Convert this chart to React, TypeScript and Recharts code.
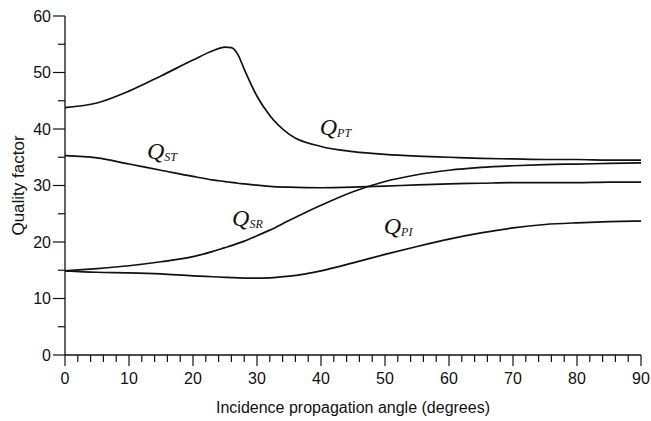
import { LineChart, Line, XAxis, YAxis, ReferenceDot, Label } from 'recharts';

// incidence angle (degrees)
const angles = [0, 5, 10, 15, 20, 23, 25, 26, 27, 28, 30, 32, 35, 40, 45, 50, 55, 60, 65, 70, 75, 80, 85, 90];

const qPT = [43.8, 44.6, 46.7, 49.4, 52.2, 53.8, 54.5, 54.4, 53.2, 50.6, 45.8, 42.4, 39.1, 36.9, 36.0, 35.5, 35.2, 35.0, 34.8, 34.7, 34.6, 34.6, 34.5, 34.5];
const qST = [35.3, 34.9, 33.8, 32.7, 31.6, 31.0, 30.7, 30.55, 30.4, 30.3, 30.05, 29.85, 29.7, 29.6, 29.7, 29.9, 30.1, 30.3, 30.4, 30.5, 30.5, 30.5, 30.6, 30.6];
const qSR = [14.9, 15.3, 15.8, 16.5, 17.4, 18.3, 19.0, 19.35, 19.75, 20.15, 21.1, 22.1, 23.8, 26.5, 28.9, 30.7, 31.9, 32.7, 33.2, 33.5, 33.7, 33.8, 33.9, 34.0];
const qPI = [14.9, 14.65, 14.55, 14.35, 14.0, 13.85, 13.75, 13.7, 13.65, 13.62, 13.6, 13.65, 13.95, 14.9, 16.3, 17.8, 19.2, 20.5, 21.6, 22.5, 23.1, 23.4, 23.6, 23.7];

const xTicks = [0, 2, 4, 6, 8, 10, 12, 14, 16, 18, 20, 22, 24, 26, 28, 30, 32, 34, 36, 38, 40, 42, 44, 46, 48, 50, 52, 54, 56, 58, 60, 62, 64, 66, 68, 70, 72, 74, 76, 78, 80, 82, 84, 86, 88, 90];
const yTicks = [0, 5, 10, 15, 20, 25, 30, 35, 40, 45, 50, 55, 60];

// curve labels: subscript, anchor angle, anchor value
const labelNames = ['PT', 'ST', 'SR', 'PI'];
const labelAngles = [39.8, 12.8, 26.1, 49.8];
const labelValues = [38.9, 34.7, 22.8, 21.4];

const data = angles.map((angle, i) => ({ angle, PT: qPT[i], ST: qST[i], SR: qSR[i], PI: qPI[i] }));

const INK = '#111';
const SANS = '"Liberation Sans", Arial, sans-serif';

function XTick({ x, y, payload }: any) {
  const major = payload.value % 10 === 0;
  return (
    <g>
      <line x1={x} y1={y} x2={x} y2={y + (major ? 11 : 7)} stroke={INK} strokeWidth={1.2} />
      {major && (
        <text x={x} y={y + 29} textAnchor="middle" fontSize={16} fontFamily={SANS} fill={INK}>
          {payload.value}
        </text>
      )}
    </g>
  );
}

function YTick({ x, y, payload }: any) {
  const major = payload.value % 10 === 0;
  return (
    <g>
      <line x1={x} y1={y} x2={x - (major ? 12 : 7)} y2={y} stroke={INK} strokeWidth={1.2} />
      {major && (
        <text x={x - 14} y={y} dy="0.36em" textAnchor="end" fontSize={16} fontFamily={SANS} fill={INK}>
          {payload.value}
        </text>
      )}
    </g>
  );
}

function curveLabel(name: string) {
  return ({ viewBox }: any) => (
    <text x={viewBox.x} y={viewBox.y} fontFamily='"Liberation Serif", "Times New Roman", serif' fontStyle="italic" fill={INK}>
      <tspan fontSize={24}>Q</tspan>
      <tspan fontSize={12} dy={2}>{name}</tspan>
    </text>
  );
}

export default function App() {
  return (
    <div style={{ position: 'absolute', left: 0, top: 0, background: '#fff' }}>
      <LineChart width={651} height={421} data={data} margin={{ top: 16, right: 10, bottom: 65, left: 64 }}>
        <XAxis
          dataKey="angle"
          type="number"
          domain={[0, 90]}
          ticks={xTicks}
          interval={0}
          height={1}
          tickSize={0}
          tickMargin={0}
          tickLine={false}
          tick={<XTick />}
          axisLine={{ stroke: INK, strokeWidth: 1.3 }}
        >
          <Label
            content={({ viewBox }: any) => (
              <text x={viewBox.x + viewBox.width / 2} y={413} textAnchor="middle" fontSize={16} fontFamily={SANS} fill={INK}>
                Incidence propagation angle (degrees)
              </text>
            )}
          />
        </XAxis>
        <YAxis
          type="number"
          domain={[0, 60]}
          ticks={yTicks}
          interval={0}
          width={1}
          tickSize={0}
          tickMargin={0}
          tickLine={false}
          tick={<YTick />}
          axisLine={{ stroke: INK, strokeWidth: 1.3 }}
        >
          <Label
            content={({ viewBox }: any) => {
              const cx = 24;
              const cy = viewBox.y + viewBox.height / 2;
              return (
                <text x={cx} y={cy} transform={`rotate(-90 ${cx} ${cy})`} textAnchor="middle" fontSize={17} fontFamily={SANS} fill={INK}>
                  Quality factor
                </text>
              );
            }}
          />
        </YAxis>
        <Line type="monotone" dataKey="PT" stroke={INK} strokeWidth={1.7} dot={false} isAnimationActive={false} />
        <Line type="monotone" dataKey="ST" stroke={INK} strokeWidth={1.7} dot={false} isAnimationActive={false} />
        <Line type="monotone" dataKey="SR" stroke={INK} strokeWidth={1.7} dot={false} isAnimationActive={false} />
        <Line type="monotone" dataKey="PI" stroke={INK} strokeWidth={1.7} dot={false} isAnimationActive={false} />
        {labelNames.map((name, i) => (
          <ReferenceDot
            key={name}
            x={labelAngles[i]}
            y={labelValues[i]}
            r={0}
            fill="none"
            stroke="none"
            label={{ content: curveLabel(name) }}
          />
        ))}
      </LineChart>
    </div>
  );
}
